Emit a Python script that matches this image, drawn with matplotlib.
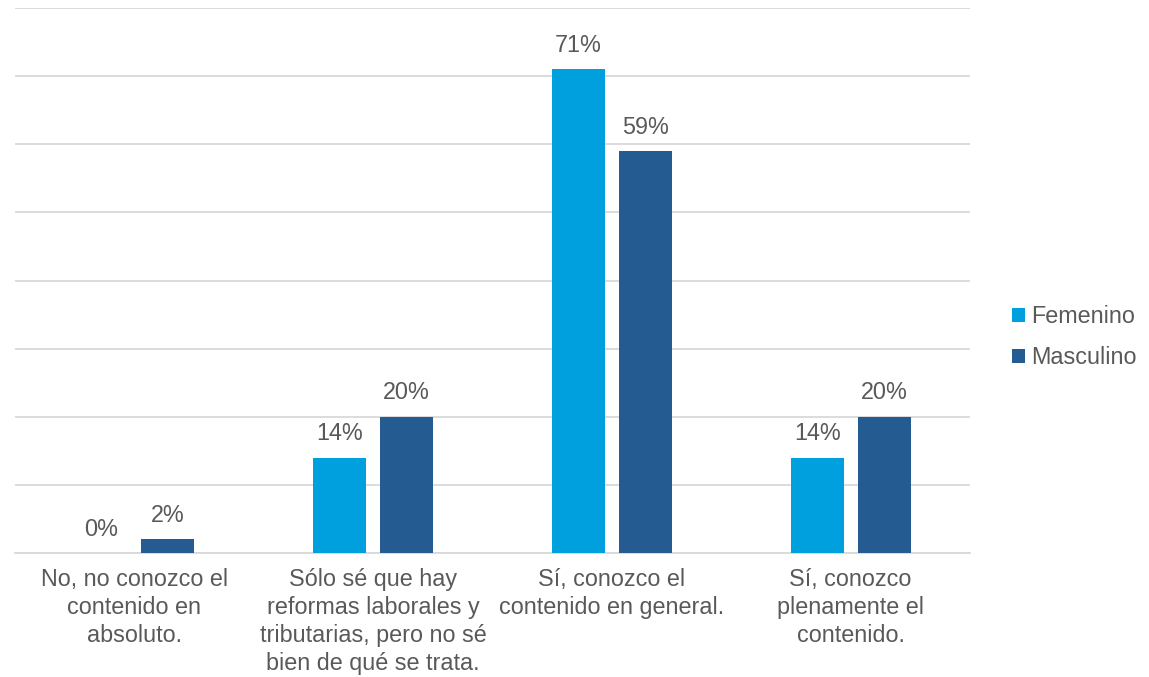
import matplotlib
matplotlib.use("Agg")
import matplotlib.pyplot as plt
import numpy as np

categories = ["No, no conozco el\ncontenido en\nabsoluto.",
              "Sólo sé que hay\nreformas laborales y\ntributarias, pero no sé\nbien de qué se trata.",
              "Sí, conozco el\ncontenido en general.",
              "Sí, conozco\nplenamente el\ncontenido."]
femenino = [0, 14, 71, 14]
masculino = [2, 20, 59, 20]
series_names = ["Femenino", "Masculino"]
colors = ["#009FDD", "#245B91"]
text_color = "#595959"

plt.rcParams['font.family'] = ['Liberation Sans', 'DejaVu Sans']
FS = 16.8

fig = plt.figure(figsize=(11.49, 6.77), dpi=100)
ax = fig.add_axes([15/1149, 1-553/677, 955/1149, 545/677])

x = np.arange(len(categories))
w = 0.222
off = 0.14
b1 = ax.bar(x - off, femenino, w, color=colors[0], label=series_names[0], zorder=3)
b2 = ax.bar(x + off, masculino, w, color=colors[1], label=series_names[1], zorder=3)
for bars, vals in ((b1, femenino), (b2, masculino)):
    for r, v in zip(bars, vals):
        ax.annotate(f"{v}%", (r.get_x() + r.get_width()/2, v), xytext=(0, 9),
                    textcoords="offset points", ha="center", va="bottom",
                    fontsize=FS, color=text_color)

ax.set_xlim(-0.5, len(categories) - 0.5)
ax.set_ylim(0, 80)
ax.set_yticks(np.arange(0, 81, 10))
ax.yaxis.grid(True, color="#D9D9D9", linewidth=1.3, zorder=0)
ax.tick_params(axis='y', left=False, labelleft=False)
ax.set_xticks(x)
ax.set_xticklabels(categories, fontsize=FS, color=text_color, linespacing=1.27)
ax.tick_params(axis='x', length=0, pad=11)
for s in ["top", "right", "left"]:
    ax.spines[s].set_visible(False)
ax.spines["bottom"].set_color("#D9D9D9")
ax.spines["bottom"].set_linewidth(1.3)

fig.legend(handles=[b1, b2], labels=series_names, loc="center left",
           bbox_to_anchor=(991/1149, 1-337/677), frameon=False,
           fontsize=FS, labelcolor=text_color, handlelength=0.55, handleheight=0.55,
           handletextpad=0.25, labelspacing=0.76)

fig.savefig("out.png", dpi=100)
